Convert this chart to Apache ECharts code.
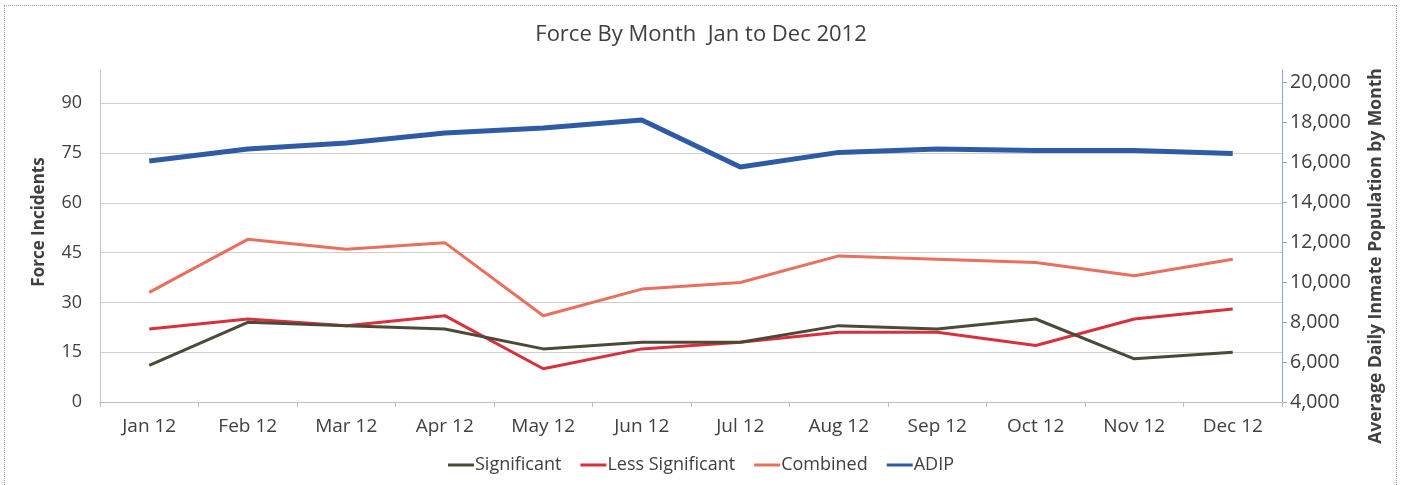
<!DOCTYPE html>
<html>
<head>
<meta charset="utf-8">
<script src="https://cdn.jsdelivr.net/npm/echarts@6/dist/echarts.min.js"></script>
<style>
  html, body { margin: 0; padding: 0; background: #fff; }
  #frame {
    position: absolute; left: 4px; top: 5px; width: 1393px; height: 490px;
    border: 1px dotted #9a9a9a; box-sizing: border-box;
  }
  #chart { position: absolute; left: 0; top: 0; width: 1402px; height: 485px; }
</style>
</head>
<body>
<div id="frame"></div>
<div id="chart"></div>
<script>
const months = ['Jan 12', 'Feb 12', 'Mar 12', 'Apr 12', 'May 12', 'Jun 12',
  'Jul 12', 'Aug 12', 'Sep 12', 'Oct 12', 'Nov 12', 'Dec 12'];

const significant = [11, 24, 23, 22, 16, 18, 18, 23, 22, 25, 13, 15];
const lessSignificant = [22, 25, 23, 26, 10, 16, 18, 21, 21, 17, 25, 28];
const combined = [33, 49, 46, 48, 26, 34, 36, 44, 43, 42, 38, 43];
const adip = [16050, 16650, 16950, 17450, 17700, 18100, 15750, 16480, 16650, 16570, 16570, 16420];

const LABEL_COLOR = '#404040';
const FONT = '"Open Sans", "Noto Sans", sans-serif';

const chart = echarts.init(document.getElementById('chart'), null, { renderer: 'canvas' });

chart.setOption({
  animation: false,
  backgroundColor: 'transparent',
  textStyle: { fontFamily: FONT },
  title: {
    text: 'Force By Month  Jan to Dec 2012',
    left: 'center',
    top: 19,
    textStyle: { color: LABEL_COLOR, fontSize: 22, fontWeight: 'normal', fontFamily: FONT },
  },
  grid: { left: 100, right: 120, top: 70, bottom: 83, containLabel: false, outerBoundsMode: 'none' },
  legend: {
    bottom: 6,
    left: 'center',
    icon: 'rect',
    itemWidth: 26,
    itemHeight: 3,
    itemGap: 19,
    textStyle: { color: LABEL_COLOR, fontSize: 18, fontFamily: FONT, padding: [0, 0, 0, -4] },
    data: ['Significant', 'Less Significant', 'Combined', 'ADIP'],
  },
  xAxis: {
    type: 'category',
    data: months,
    boundaryGap: true,
    axisLine: { show: true, lineStyle: { color: '#bdbdbd', width: 1 } },
    axisTick: { show: true, length: 5, lineStyle: { color: '#bdbdbd' } },
    axisLabel: { color: LABEL_COLOR, fontSize: 19, margin: 15, fontFamily: FONT },
    splitLine: { show: false },
  },
  yAxis: [
    {
      type: 'value',
      min: 0,
      max: 100,
      interval: 15,
      name: 'Force Incidents',
      nameLocation: 'middle',
      nameGap: 52,
      nameRotate: 90,
      nameTextStyle: {
        color: LABEL_COLOR, fontSize: 17, fontWeight: 'bold', fontFamily: FONT, padding: [0, 0, 0, 28],
      },
      axisLine: { show: true, lineStyle: { color: '#c4c4c4' } },
      axisTick: { show: false },
      axisLabel: { color: LABEL_COLOR, fontSize: 18, margin: 18, showMaxLabel: false, fontFamily: FONT },
      splitLine: { show: true, showMaxLine: false, lineStyle: { color: '#cfcfcf', width: 1 } },
    },
    {
      type: 'value',
      min: 4000,
      max: 20600,
      interval: 2000,
      position: 'right',
      name: 'Average Daily Inmate Population by Month',
      nameLocation: 'middle',
      nameGap: 85,
      nameRotate: 90,
      nameTextStyle: {
        color: LABEL_COLOR, fontSize: 17.5, fontWeight: 'bold', fontFamily: FONT, padding: [0, 40, 0, 0],
      },
      axisLine: { show: true, lineStyle: { color: '#8ea6d6', width: 1 } },
      axisTick: { show: true, length: 5, inside: false, lineStyle: { color: '#8ea6d6' } },
      axisLabel: {
        color: LABEL_COLOR,
        fontSize: 19.5,
        margin: 8,
        showMaxLabel: false,
        fontFamily: FONT,
        formatter: (value) => value.toLocaleString('en-US'),
      },
      splitLine: { show: false },
    },
  ],
  series: [
    {
      name: 'Significant',
      type: 'line',
      yAxisIndex: 0,
      data: significant,
      showSymbol: false,
      symbol: 'none',
      lineStyle: { color: '#4c4a37', width: 3 },
      itemStyle: { color: '#4c4a37' },
      z: 4,
    },
    {
      name: 'Less Significant',
      type: 'line',
      yAxisIndex: 0,
      data: lessSignificant,
      showSymbol: false,
      symbol: 'none',
      lineStyle: { color: '#d7313d', width: 3 },
      itemStyle: { color: '#d7313d' },
      z: 3,
    },
    {
      name: 'Combined',
      type: 'line',
      yAxisIndex: 0,
      data: combined,
      showSymbol: false,
      symbol: 'none',
      lineStyle: { color: '#e8705e', width: 3 },
      itemStyle: { color: '#e8705e' },
      z: 3,
    },
    {
      name: 'ADIP',
      type: 'line',
      yAxisIndex: 1,
      data: adip,
      showSymbol: false,
      symbol: 'none',
      lineStyle: { color: '#2f5ba6', width: 5 },
      itemStyle: { color: '#2f5ba6' },
      z: 5,
    },
  ],
});
</script>
</body>
</html>
